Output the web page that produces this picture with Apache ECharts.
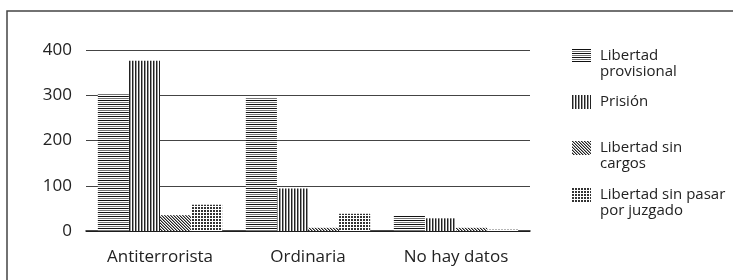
<!DOCTYPE html>
<html>
<head>
<meta charset="utf-8">
<script src="https://cdn.jsdelivr.net/npm/echarts@6/dist/echarts.min.js"></script>
<style>
  html, body { margin: 0; padding: 0; background: #fff; }
  #chart { width: 733px; height: 280px; }
</style>
</head>
<body>
<div id="chart"></div>
<script>
var categories = ['Antiterrorista', 'Ordinaria', 'No hay datos'];
var seriesNames = ['Libertad provisional', 'Prisión', 'Libertad sin cargos', 'Libertad sin pasar por juzgado'];
// leading empty line keeps the icon level with the first text line
var legendLabels = ['\nLibertad\nprovisional', 'Prisión', '\nLibertad sin\ncargos', '\nLibertad sin pasar\npor juzgado'];
var provisional = [304, 294, 35];
var prision = [376, 94, 28];
var sinCargos = [35, 7, 7];
var sinPasar = [58, 38, 3];
var yTicks = [0, 100, 200, 300, 400];

var FONT = '"Open Sans", sans-serif';

// 填充图案
function makePattern(w, h, draw) {
  var c = document.createElement('canvas');
  c.width = w; c.height = h;
  var ctx = c.getContext('2d');
  ctx.fillStyle = '#fff';
  ctx.fillRect(0, 0, w, h);
  draw(ctx);
  return { image: c, repeat: 'repeat' };
}
var patHoriz = makePattern(4, 4, function (ctx) {
  ctx.fillStyle = '#111'; ctx.fillRect(0, 0, 4, 1);
  ctx.fillStyle = '#777'; ctx.fillRect(0, 2, 4, 1);
});
var patVert = makePattern(3, 3, function (ctx) {
  ctx.fillStyle = '#222'; ctx.fillRect(0, 0, 1, 3);
  ctx.fillStyle = '#999'; ctx.fillRect(1, 0, 1, 3);
});
var patDiag = makePattern(3, 3, function (ctx) {
  ctx.fillStyle = '#222';
  ctx.fillRect(0, 0, 1, 1); ctx.fillRect(1, 1, 1, 1); ctx.fillRect(2, 2, 1, 1);
  ctx.fillStyle = '#999';
  ctx.fillRect(1, 0, 1, 1); ctx.fillRect(2, 1, 1, 1); ctx.fillRect(0, 2, 1, 1);
});
var patDots = makePattern(3, 3, function (ctx) {
  ctx.fillStyle = '#333';
  ctx.fillRect(0, 0, 2, 2);
});
var patterns = [patHoriz, patVert, patDiag, patDots];
var values = [provisional, prision, sinCargos, sinPasar];

var chart = echarts.init(document.getElementById('chart'), null, { renderer: 'canvas' });

var LH = 16;
var iconCenters = [56, 102, 148, 195];
var legends = seriesNames.map(function (name, i) {
  var lines = legendLabels[i].split('\n').length;
  return {
    data: [name],
    left: 572,
    top: Math.round(iconCenters[i] - lines * LH / 2),
    padding: 0,
    itemWidth: 19,
    itemHeight: 14,
    itemGap: 0,
    icon: 'rect',
    selectedMode: false,
    formatter: function () { return legendLabels[i]; },
    textStyle: {
      fontFamily: FONT,
      fontSize: 15,
      color: '#222',
      lineHeight: LH,
      padding: [0, 0, 0, 4]
    }
  };
});

var series = seriesNames.map(function (name, i) {
  return {
    name: name,
    type: 'bar',
    data: values[i],
    barGap: '0%',
    barCategoryGap: '16%',
    itemStyle: { color: patterns[i] }
  };
});

chart.setOption({
  animation: false,
  backgroundColor: '#fff',
  graphic: [{
    type: 'polyline',
    shape: { points: [[7, 300], [7, 11], [740, 11]] },
    style: { stroke: '#444', lineWidth: 1.5, fill: null }
  }],
  legend: legends,
  grid: { left: 86, right: 203, top: 50, bottom: 49 },
  xAxis: {
    type: 'category',
    data: categories,
    axisLine: { lineStyle: { color: '#111', width: 1.5 } },
    axisTick: { show: false },
    axisLabel: { fontFamily: FONT, fontSize: 17, color: '#222', margin: 18 }
  },
  yAxis: {
    type: 'value',
    min: yTicks[0],
    max: yTicks[yTicks.length - 1],
    interval: 100,
    axisLine: { show: false },
    axisTick: { show: false },
    axisLabel: { fontFamily: FONT, fontSize: 17, color: '#222', margin: 14 },
    splitLine: { lineStyle: { color: '#444', width: 1.2 } }
  },
  series: series
});
</script>
</body>
</html>
